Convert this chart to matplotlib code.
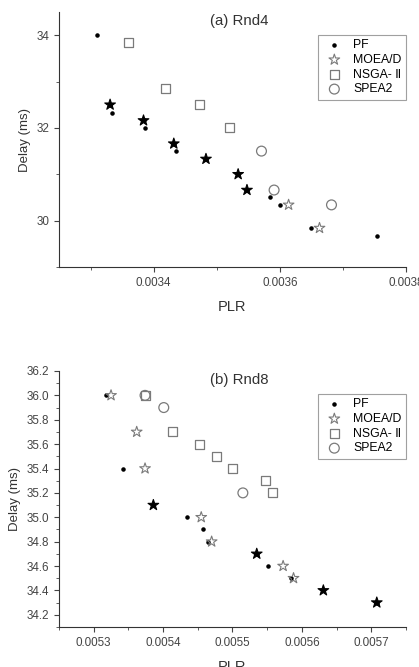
import matplotlib
matplotlib.use("Agg")
import matplotlib.pyplot as plt
from matplotlib.ticker import MultipleLocator, FormatStrFormatter

plt.rcParams["font.family"] = ["Liberation Sans", "DejaVu Sans"]

# (a) Rnd4
a_pf_x = [0.003311, 0.003334, 0.003387, 0.003436, 0.003584, 0.0036, 0.00365, 0.003754,
          0.003331, 0.003384, 0.003432, 0.003483, 0.003534, 0.003548]
a_pf_y = [34.0, 32.33, 32.0, 31.5, 30.5, 30.34, 29.84, 29.67,
          32.5, 32.16, 31.66, 31.33, 31.0, 30.66]
a_moead_x = [0.003331, 0.003384, 0.003432, 0.003483, 0.003534, 0.003548, 0.003614, 0.003663]
a_moead_y = [32.5, 32.16, 31.66, 31.33, 31.0, 30.66, 30.34, 29.84]
a_nsga_x = [0.00336, 0.003419, 0.003472, 0.003521]
a_nsga_y = [33.84, 32.84, 32.5, 32.0]
a_spea_x = [0.003571, 0.003591, 0.003682]
a_spea_y = [31.5, 30.66, 30.34]

# (b) Rnd8
b_pf_x = [0.005318, 0.005342, 0.005435, 0.005457, 0.005465, 0.005551, 0.005585,
          0.005386, 0.005535, 0.005631, 0.005708]
b_pf_y = [36.0, 35.4, 35.0, 34.9, 34.8, 34.6, 34.5,
          35.1, 34.7, 34.4, 34.3]
b_moead_x = [0.005325, 0.005362, 0.005374, 0.005386, 0.005455, 0.00547,
             0.005535, 0.005573, 0.005588, 0.005631, 0.005708]
b_moead_y = [36.0, 35.7, 35.4, 35.1, 35.0, 34.8, 34.7, 34.6, 34.5, 34.4, 34.3]
b_nsga_x = [0.005374, 0.005413, 0.005453, 0.005477, 0.0055, 0.005547, 0.005557]
b_nsga_y = [36.0, 35.7, 35.6, 35.5, 35.4, 35.3, 35.2]
b_spea_x = [0.005374, 0.005401, 0.005515]
b_spea_y = [36.0, 35.9, 35.2]

NAMES = ["PF", "MOEA/D", "NSGA- Ⅱ", "SPEA2"]
GRAY = "#7a7a7a"
TXT = "#333333"


def draw(ax, pf, moead, nsga, spea, title):
    pf_set = set(zip(*pf))
    faces = ["black" if p in pf_set else "none" for p in zip(*moead)]
    edges = ["black" if p in pf_set else GRAY for p in zip(*moead)]
    ax.scatter(*nsga, marker="s", s=42, facecolors="none", edgecolors=GRAY, linewidths=0.9,
               label=NAMES[2], zorder=2)
    ax.scatter(*spea, marker="o", s=50, facecolors="none", edgecolors=GRAY, linewidths=0.9,
               label=NAMES[3], zorder=2)
    ax.scatter(*pf, marker="o", s=5, color="black", label=NAMES[0], zorder=3)
    ax.scatter(*moead, marker="*", s=65, facecolors=faces, edgecolors=edges, linewidths=0.8,
               zorder=4)
    ax.scatter([], [], marker="*", s=65, facecolors="none", edgecolors=GRAY, linewidths=0.8,
               label=NAMES[1])
    h, l = ax.get_legend_handles_labels()
    order = [l.index(n) for n in NAMES]
    leg = ax.legend([h[i] for i in order], [l[i] for i in order], loc="upper right",
                    bbox_to_anchor=(1.0, 0.91), borderaxespad=0, fontsize=8.8, frameon=True,
                    fancybox=False, edgecolor="#888888", handletextpad=0.55, borderpad=0.35,
                    labelspacing=0.22, handlelength=2.0)
    leg.get_frame().set_linewidth(0.8)
    ax.text(0.52, 0.965, title, transform=ax.transAxes, ha="center", va="center",
            fontsize=10.8, color=TXT)
    ax.set_xlabel("PLR", fontsize=10.5, color=TXT)
    ax.set_ylabel("Delay (ms)", fontsize=9.5, color=TXT)
    for s in ["top", "right"]:
        ax.spines[s].set_visible(False)
    for s in ["left", "bottom"]:
        ax.spines[s].set_color("#333333")
    ax.tick_params(which="major", direction="out", length=3.5, labelsize=8.4, colors="#444444")
    ax.tick_params(which="minor", direction="out", length=2, colors="#444444")


fig = plt.figure(figsize=(4.19, 6.67), dpi=100)
ax1 = fig.add_axes([0.1408, 0.5997, 0.828, 0.3823])
ax2 = fig.add_axes([0.1408, 0.06, 0.828, 0.3838])

draw(ax1, (a_pf_x, a_pf_y), (a_moead_x, a_moead_y), (a_nsga_x, a_nsga_y),
     (a_spea_x, a_spea_y), "(a) Rnd4")
ax1.set_xlim(0.00325, 0.0038)
ax1.set_ylim(29, 34.5)
ax1.xaxis.set_major_locator(MultipleLocator(0.0002))
ax1.xaxis.set_minor_locator(MultipleLocator(0.0001))
ax1.xaxis.set_major_formatter(FormatStrFormatter("%.4f"))
ax1.yaxis.set_major_locator(MultipleLocator(2))
ax1.yaxis.set_minor_locator(MultipleLocator(1))
ax1.yaxis.set_major_formatter(FormatStrFormatter("%d"))
ax1.xaxis.labelpad = 8

draw(ax2, (b_pf_x, b_pf_y), (b_moead_x, b_moead_y), (b_nsga_x, b_nsga_y),
     (b_spea_x, b_spea_y), "(b) Rnd8")
ax2.set_xlim(0.00525, 0.00575)
ax2.set_ylim(34.1, 36.2)
ax2.xaxis.set_major_locator(MultipleLocator(0.0001))
ax2.xaxis.set_minor_locator(MultipleLocator(0.00005))
ax2.xaxis.set_major_formatter(FormatStrFormatter("%.4f"))
ax2.yaxis.set_major_locator(MultipleLocator(0.2))
ax2.yaxis.set_minor_locator(MultipleLocator(0.1))
ax2.yaxis.set_major_formatter(FormatStrFormatter("%.1f"))
ax2.xaxis.labelpad = 8

fig.savefig("out.png", dpi=100)
